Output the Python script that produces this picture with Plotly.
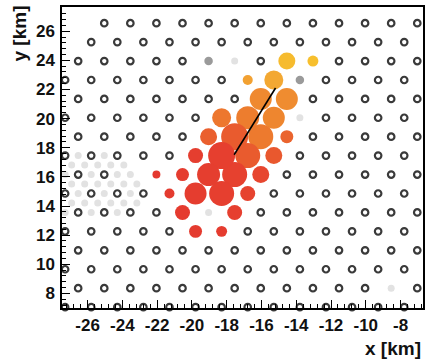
import numpy as np
import plotly.graph_objects as go

# ---------------- data (km) ----------------
# detector rows: y of each row, x of first station, number of stations (1.5 km grid)
row_y = [26.55, 25.25, 23.95, 22.65, 21.35, 20.06, 18.76, 17.46,
         16.16, 14.86, 13.56, 12.26, 10.96, 9.66, 8.36, 7.06]
row_x_first = [-25.04, -25.79, -26.54, -27.29, -26.54, -27.29, -26.54, -27.29,
               -26.54, -27.29, -26.54, -27.29, -26.54, -27.29, -26.54, -27.29]
row_n = [13, 13, 14, 14, 14, 14, 14, 14, 14, 14, 14, 14, 14, 14, 14, 14]
station_spacing = 1.5

# triggered stations: position, signal (VEM), relative start time
hit_x = [-14.54, -13.04, -16.79, -15.29, -16.04, -14.54, -18.29, -16.79, -15.29,
         -19.04, -17.54, -16.04, -14.54, -19.79, -18.29, -16.79, -15.29,
         -22.04, -20.54, -19.04, -17.54, -16.04, -21.29, -19.79, -18.29, -16.79,
         -20.54, -17.54, -19.79, -18.29]
hit_y = [23.95, 23.95, 22.65, 22.65, 21.35, 21.35, 20.06, 20.06, 20.06,
         18.76, 18.76, 18.76, 18.76, 17.46, 17.46, 17.46, 17.46,
         16.16, 16.16, 16.16, 16.16, 16.16, 14.86, 14.86, 14.86, 14.86,
         13.56, 13.56, 12.26, 12.26]
hit_signal = [139, 19, 14, 268, 720, 720, 268, 1000, 720,
              139, 3730, 1930, 37, 72, 3730, 1930, 139,
              7, 37, 1000, 1930, 139, 14, 720, 1930, 72,
              72, 72, 37, 19]
hit_time = [0.95, 0.98, 0.74, 0.78, 0.60, 0.62, 0.48, 0.52, 0.58,
            0.33, 0.30, 0.50, 0.36, 0.06, 0.08, 0.30, 0.28,
            0.00, 0.04, 0.06, 0.10, 0.16, 0.02, 0.05, 0.08, 0.12,
            0.03, 0.08, 0.02, 0.04]

# silent stations (dark gray)
sil_x = [-19.04, -13.79]
sil_y = [23.95, 22.65]
# stations out of acquisition (light gray)
off_x = [-17.54, -13.79, -19.04, -8.54, -23.54]
off_y = [23.95, 20.06, 13.56, 8.36, 16.16]
# infill array (light gray)
inf_x = [-26.54, -25.04,
         -26.915, -26.165, -25.415, -24.665, -23.915,
         -27.29, -25.79, -24.29,
         -26.915, -26.165, -25.415, -24.665, -23.915, -23.165,
         -26.54, -25.04, -23.54,
         -26.915, -26.165, -25.415, -24.665, -23.915, -23.165,
         -27.29, -25.79, -24.29]
inf_y = [17.46, 17.46,
         16.81, 16.81, 16.81, 16.81, 16.81,
         16.16, 16.16, 16.16,
         15.51, 15.51, 15.51, 15.51, 15.51, 15.51,
         14.86, 14.86, 14.86,
         14.21, 14.21, 14.21, 14.21, 14.21, 14.21,
         13.56, 13.56, 13.56]

# reconstructed shower axis projection
axis_x = [-15.19, -17.57]
axis_y = [22.10, 17.52]

x_ticks = [-26, -24, -22, -20, -18, -16, -14, -12, -10, -8]
x_ticktext = ["-26", "-24", "-22", "-20", "-18", "-16", "-14", "-12", "-10", "-8"]
y_ticks = [8, 10, 12, 14, 16, 18, 20, 22, 24, 26]
y_ticktext = ["8", "10", "12", "14", "16", "18", "20", "22", "24", "26"]

# ---------------- build ----------------
special = list(zip(hit_x + sil_x + off_x, hit_y + sil_y + off_y))
open_x, open_y = [], []
for y, x0, n in zip(row_y, row_x_first, row_n):
    for k in range(n):
        x = x0 + k * station_spacing
        if any(abs(x - sx) < 0.2 and abs(y - sy) < 0.2 for sx, sy in special):
            continue
        open_x.append(x)
        open_y.append(y)

sizes = [7 * np.log10(s) + 2 for s in hit_signal]
order = np.argsort(hit_time)[::-1]

colorscale = [[0.0, "#E4392F"], [0.15, "#E7452F"], [0.35, "#EA622E"],
              [0.5, "#ED7A2E"], [0.62, "#EF8C30"], [0.78, "#F3A832"], [1.0, "#F7C12D"]]

fig = go.Figure()
fig.add_trace(go.Scatter(x=inf_x, y=inf_y, mode="markers", cliponaxis=False,
                         marker=dict(size=7, color="#e2e2e2")))
fig.add_trace(go.Scatter(x=open_x, y=open_y, mode="markers", cliponaxis=False,
                         marker=dict(symbol="circle-open", size=6.5, color="#3a3a3a",
                                     line=dict(width=2.2, color="#3a3a3a"))))
fig.add_trace(go.Scatter(x=off_x, y=off_y, mode="markers",
                         marker=dict(size=7, color="#e2e2e2")))
fig.add_trace(go.Scatter(x=sil_x, y=sil_y, mode="markers",
                         marker=dict(size=8.5, color="#9a9a9a")))
fig.add_trace(go.Scatter(x=[hit_x[i] for i in order], y=[hit_y[i] for i in order],
                         mode="markers",
                         marker=dict(size=[sizes[i] for i in order],
                                     color=[hit_time[i] for i in order],
                                     colorscale=colorscale, cmin=0, cmax=1,
                                     line=dict(width=0), opacity=1)))
fig.add_trace(go.Scatter(x=axis_x, y=axis_y, mode="lines",
                         line=dict(color="black", width=1.6)))

tick_font = dict(family="Liberation Sans, Arial, sans-serif", size=17, color="#111111", weight="bold")
title_font = dict(family="Liberation Sans, Arial, sans-serif", size=19, color="#111111", weight="bold")
axis_common = dict(showgrid=False, zeroline=False, showline=True, mirror=True,
                   linecolor="black", linewidth=1.5, ticks="inside", ticklen=8,
                   tickwidth=1.2, tickcolor="black", tickfont=tick_font,
                   minor=dict(ticks="inside", ticklen=4, tickwidth=1, tickcolor="black",
                              tick0=0, dtick=0.4))
fig.update_xaxes(range=[-27.47, -6.71], tickmode="array", tickvals=x_ticks,
                 ticktext=x_ticktext, ticklabelstandoff=1, **axis_common)
fig.update_yaxes(range=[7.0, 27.66], tickmode="array", tickvals=y_ticks,
                 ticktext=y_ticktext, ticklabelstandoff=2, **axis_common)

fig.update_layout(
    width=427, height=361, showlegend=False, hovermode=False,
    margin=dict(l=62, r=2, t=7, b=53),
    paper_bgcolor="white", plot_bgcolor="white",
    annotations=[
        dict(text="x [km]", xref="paper", yref="paper", x=1.0, y=-0.093,
             xanchor="right", yanchor="top", showarrow=False, font=title_font),
        dict(text="y [km]", xref="paper", yref="paper", x=-0.118, y=1.013,
             xanchor="center", yanchor="top", textangle=-90, showarrow=False,
             font=title_font),
    ],
)
fig.write_html("out.html", config={"displayModeBar": False},
               post_script="document.body.style.margin='0';document.body.style.padding='0';")
